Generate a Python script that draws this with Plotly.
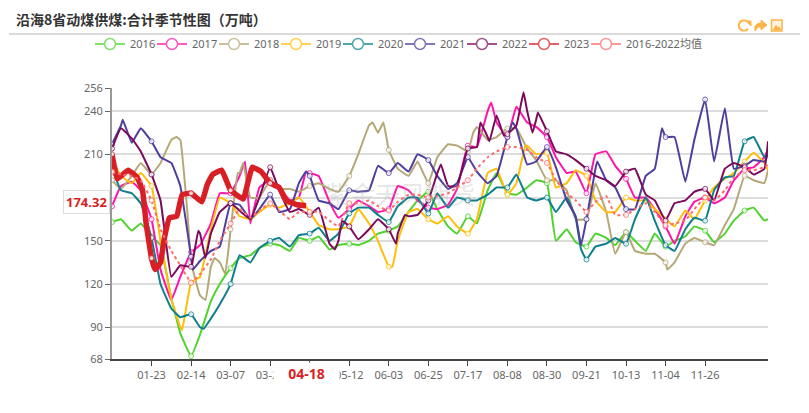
import math
import pandas as pd
import plotly.graph_objects as go

W, H = 809, 413
PAGE = 8  # the page's own body margin
L, R, T, B = 112, 768, 88, 359
FONT = "Noto Sans, Noto Sans CJK SC, sans-serif"
ICON = "#fdb44a"

DATES = [d.strftime("%m-%d") for d in pd.date_range("2016-01-01", "2016-12-31")]
GRID = [0, 5, 11, 16, 22, 27, 33, 38, 44, 49, 55, 60, 66, 71, 77, 82, 88, 93, 99, 104,
        110, 115, 121, 126, 132, 137, 143, 148, 154, 159, 165, 170, 176, 181, 187, 192, 198, 203, 209, 214,
        220, 225, 231, 236, 242, 247, 253, 258, 264, 269, 275, 280, 286, 291, 297, 302, 308, 313, 319, 324,
        330, 335, 341, 346, 352, 357, 363, 365]
DAYS_2023 = [0, 3, 9, 14, 17, 19, 22, 24, 27, 29, 32, 36, 39, 44, 50, 53, 56, 61, 66, 73, 78, 83, 88, 93, 97, 103, 108]

V2016 = [163,165,157,162,153,147,110,86,70,85,
         108,120,131,138,140,145,148,147,143,152,
         150,153,144,147,148,147,150,155,157,160,
         170,178,184,172,160,155,167,162,185,197,
         183,182,187,192,190,150,158,149,146,155,
         152,147,156,150,143,155,146,150,153,160,
         157,149,155,164,171,173,164,165]
V2017 = [174,188,191,185,165,130,109,125,142,147,
         162,183,183,195,162,187,192,187,178,180,
         197,195,177,166,172,178,174,170,172,188,
         185,178,173,172,175,186,216,215,240,232,
         222,243,232,229,222,208,197,198,183,210,
         212,202,193,180,180,172,160,148,167,177,
         180,176,180,192,200,201,208,213]
V2018 = [192,186,195,204,196,204,220,220,135,112,
         132,135,158,197,180,180,192,186,186,184,
         188,190,186,184,195,210,230,225,213,200,
         195,205,190,208,217,216,212,229,220,222,
         228,228,214,206,192,192,185,165,165,190,
         170,141,156,143,141,141,135,135,148,152,
         149,147,161,172,195,192,190,199]
V2019 = [207,195,190,197,188,150,110,90,121,125,
         158,180,176,167,165,170,175,173,176,180,
         170,161,158,158,160,172,162,150,132,150,
         170,172,165,162,167,160,155,165,197,200,
         182,190,216,210,211,187,190,199,195,178,
         170,170,180,178,178,172,165,160,171,165,
         178,187,193,197,205,211,204,199]
V2020 = [201,185,183,176,152,120,103,97,99,90,
         96,106,120,140,135,145,150,152,146,154,
         155,159,150,155,169,173,173,168,163,174,
         180,180,169,183,173,180,178,178,182,187,
         187,196,180,178,180,170,180,166,137,146,
         148,152,148,165,180,164,147,143,158,166,
         164,185,194,195,219,222,208,211]
V2021 = [217,230,218,228,219,208,204,188,139,136,
         143,146,176,175,165,172,182,170,172,190,
         195,178,176,172,185,184,185,202,197,204,
         198,210,206,195,186,190,208,198,190,195,
         222,228,203,205,215,201,178,167,165,200,
         192,187,172,172,195,200,222,222,191,220,
         248,205,242,200,202,206,205,210]
V2022 = [214,228,221,212,196,178,125,133,132,155,
         155,170,176,171,165,180,201,185,170,172,
         168,173,148,150,160,151,158,165,158,155,
         167,168,178,197,188,188,214,215,222,237,
         224,230,240,234,226,212,210,206,200,195,
         192,188,198,200,182,178,164,176,178,184,
         186,178,200,204,201,196,200,219]
V2023 = [210,193,199,194,185,162,138,130,135,151,166,167,182,183,177,189,196,199,185,179,201,198,190,187,178,175,174.32]
VAVG = [198,196,195,192,178,158,143,133,121,127,
        137,150,162,172,166,171,176,171,165,170,
        170,170,164,160,176,176,178,174,171,177,
        182,182,180,181,183,187,192,200,208,212,
        215,215,213,208,204,192,183,178,170,177,
        181,168,168,172,176,170,161,162,164,172,
        180,178,185,194,199,199,201,203]

# extra readings at sharp turns that fall between grid days
EXTRA_DAYS_2017 = [74, 108, 211]
EXTRA_VALS_2017 = [205, 198, 246]
EXTRA_DAYS_2018 = [36, 42, 52, 57, 63, 70, 73, 145, 151, 201, 309]
EXTRA_VALS_2018 = [222, 169, 109, 138, 127, 197, 204, 232, 232, 225, 130]
EXTRA_DAYS_2019 = [39, 156, 230]
EXTRA_VALS_2019 = [88, 132, 216]
EXTRA_DAYS_2020 = [51, 261]
EXTRA_VALS_2020 = [89, 144]
EXTRA_DAYS_2021 = [6, 45, 108, 223, 261, 270, 306]
EXTRA_VALS_2021 = [234, 130, 198, 232, 147, 205, 228]
EXTRA_DAYS_2022 = [48, 52, 124, 128, 158, 163, 183, 205, 210, 218, 229, 234, 237]
EXTRA_VALS_2022 = [157, 138, 144, 164, 148, 168, 203, 232, 219, 223, 253, 225, 239]

SERIES = [("2016", GRID, V2016, [], [], "#4fd22e"),
          ("2017", GRID, V2017, EXTRA_DAYS_2017, EXTRA_VALS_2017, "#ff14ab"),
          ("2018", GRID, V2018, EXTRA_DAYS_2018, EXTRA_VALS_2018, "#b5a878"),
          ("2019", GRID, V2019, EXTRA_DAYS_2019, EXTRA_VALS_2019, "#ffbe0b"),
          ("2020", GRID, V2020, EXTRA_DAYS_2020, EXTRA_VALS_2020, "#0e7f8c"),
          ("2021", GRID, V2021, EXTRA_DAYS_2021, EXTRA_VALS_2021, "#4f3e9e"),
          ("2022", GRID, V2022, EXTRA_DAYS_2022, EXTRA_VALS_2022, "#7a0a5c"),
          ("2023", DAYS_2023, V2023, [], [], "#d91f26"),
          ("2016-2022均值", GRID, VAVG, [], [], "#ff6b6b")]

TICK_DAYS = list(range(22, 331, 22))
TICK_TEXT = [DATES[d] for d in TICK_DAYS]
Y_TICKS = [68, 90, 120, 150, 180, 210, 240, 256]
Y_TEXT = ["68", "90", "120", "150", "", "210", "240", "256"]


def px(x):
    return (x - L) / (R - L)


def py(y):
    return (B - y) / (B - T)


def poly(points, close=False):
    body = " L ".join(f"{px(a):.5f},{py(b):.5f}" for a, b in points)
    return "M " + body + (" Z" if close else "")


arc = [(744 + 5.2 * math.cos(math.radians(a)), 25.5 - 5.2 * math.sin(math.radians(a)))
       for a in range(40, 340, 20)]
fig = go.Figure()
for name, base_days, vals, xdays, xvals, col in SERIES:
    pts = dict(zip(base_days, vals))
    pts.update(zip(xdays, xvals))
    days = sorted(pts)
    is_avg = name.endswith("均值")
    width = 5.5 if name == "2023" else 2
    fig.add_trace(go.Scatter(
        x=[DATES[d] for d in days], y=[pts[d] for d in days], mode="lines+markers", showlegend=False,
        name=name, legendgroup=name,
        line=dict(color=col, width=width, dash="dot" if is_avg else "solid", shape="spline", smoothing=0.3),
        marker=dict(size=[5 if d % 22 == 0 else 0 for d in days], color="white",
                    line=dict(color=col, width=1), opacity=0.8)))
    fig.add_trace(go.Scatter(
        x=[None], y=[None], mode="lines+markers", name=name, legendgroup=name, opacity=0.7,
        legend="legend2" if is_avg else ("legend3" if name == "2023" else "legend"),
        line=dict(color=col, width=2),
        marker=dict(size=11, color="white", line=dict(color=col, width=1.5))))
# transparent trailing entry so that the last real entry of the first legend keeps its full text
fig.add_trace(go.Scatter(x=[None], y=[None], mode="lines", name=" ", legend="legend",
                         line=dict(color="rgba(0,0,0,0)", width=0)))

fig.update_layout(
    width=W - PAGE, height=H - PAGE, margin=dict(l=L - PAGE, r=W - R, t=T - PAGE, b=H - B, pad=0),
    paper_bgcolor="white", plot_bgcolor="white", font=dict(family=FONT, size=11, color="#666"),
    title=dict(text="<b>沿海8省动煤供煤:合计季节性图（万吨）</b>", x=(16 - PAGE) / (W - PAGE),
               y=1 - (20 - PAGE) / (H - PAGE), xanchor="left", yanchor="middle", xref="container",
               yref="container", font=dict(size=14, color="#333", family="Noto Sans CJK SC")),
    legend=dict(orientation="h", x=px(90), y=py(44), xanchor="left", yanchor="middle",
                entrywidth=17, entrywidthmode="pixels", itemwidth=30, tracegroupgap=0,
                font=dict(size=11, color="#666"), bgcolor="rgba(0,0,0,0)", itemclick=False),
    legend2=dict(orientation="h", x=px(586), y=py(44), xanchor="left", yanchor="middle", itemwidth=30,
                 font=dict(size=11, color="#666"), bgcolor="rgba(0,0,0,0)", itemclick=False),
    legend3=dict(orientation="h", x=px(524), y=py(44), xanchor="left", yanchor="middle", itemwidth=30,
                 font=dict(size=11, color="#666"), bgcolor="rgba(0,0,0,0)", itemclick=False),
    xaxis=dict(type="category", categoryorder="array", categoryarray=DATES, range=[0, 365],
               tickmode="array", tickvals=TICK_TEXT, ticktext=["" if t == "04-20" else t for t in TICK_TEXT],
               ticks="outside", ticklen=5, tickcolor="#444", showgrid=False, showline=True, linecolor="#444",
               linewidth=1.5, tickangle=0, tickfont=dict(size=11, color="#666")),
    yaxis=dict(range=[68, 256], tickmode="array", tickvals=Y_TICKS, ticktext=Y_TEXT, ticks="outside", ticklen=5,
               tickcolor="#666", showgrid=True, gridcolor="#dcdcdc", gridwidth=1.5, showline=True,
               linecolor="#999", linewidth=2, zeroline=False, tickfont=dict(size=11, color="#666")),
    shapes=[
        dict(type="line", xref="paper", yref="paper", x0=px(9), x1=px(800), y0=py(34), y1=py(34),
             line=dict(color="#b5b5b5", width=1)),
        dict(type="path", xref="paper", yref="paper", path=poly(arc), line=dict(color=ICON, width=2)),
        dict(type="path", xref="paper", yref="paper", path=poly([(746, 21), (751, 21), (751, 26)], True),
             line=dict(color=ICON, width=1), fillcolor=ICON),
        dict(type="path", xref="paper", yref="paper",
             path=poly([(755, 31), (755, 26), (758, 23.5), (761, 23.5), (761, 20), (767, 25), (761, 30),
                        (761, 27), (758, 27)], True),
             line=dict(color=ICON, width=1), fillcolor=ICON),
        dict(type="rect", xref="paper", yref="paper", x0=px(771.5), x1=px(782), y0=py(20), y1=py(31),
             line=dict(color=ICON, width=1.5), fillcolor="#fff3df"),
        dict(type="path", xref="paper", yref="paper",
             path=poly([(773, 30), (776, 25), (778, 28), (779, 26.5), (781, 30)], True),
             line=dict(color=ICON, width=0.5), fillcolor=ICON),
    ],
    annotations=[
        dict(text="紫金天风期货", xref="paper", yref="paper", x=px(400), y=py(193), showarrow=False,
             font=dict(size=25, color="rgba(170,170,170,0.3)", family="Noto Sans CJK SC")),
        dict(text="<b>174.32</b>", xref="paper", yref="y", x=0, y=176.8, xanchor="right", xshift=-2,
             showarrow=False, bgcolor="white", bordercolor="#dddddd", borderwidth=1, borderpad=2,
             font=dict(size=13, color="#d91f26")),
        dict(text="<b>04-18</b>", xref="x", yref="paper", x="04-18", y=0, yanchor="top", yshift=-3,
             showarrow=False, bgcolor="white", width=63, height=18,
             font=dict(size=14, color="#d91f26")),
    ],
)
fig.write_html("out.html")
